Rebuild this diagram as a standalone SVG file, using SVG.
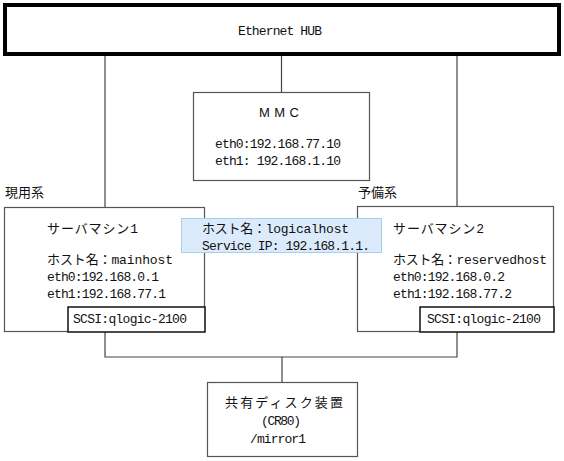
<svg xmlns="http://www.w3.org/2000/svg" width="564" height="461" viewBox="0 0 564 461">
<style>
text{font-family:"Liberation Mono","Noto Sans CJK JP",monospace;font-size:13px;fill:#111}
.box{fill:#fff;stroke:#555;stroke-width:1.2}
.scsi{fill:#fff;stroke:#111;stroke-width:1.5}
.conn{stroke:#444;stroke-width:1.2;fill:none}
</style>
<rect width="564" height="461" fill="#fff"/>
<g id="connectors">
<path class="conn" d="M105 56V207M281.5 56V93M457 56V207M105 332V357H457V332M282 357V382"/>
</g>
<g id="hub">
<rect x="5" y="5" width="554" height="49" fill="#fff" stroke="#000" stroke-width="4"/>
<text x="280" y="34.5" text-anchor="middle" textLength="84">Ethernet HUB</text>
</g>
<g id="mmc">
<rect class="box" x="193.5" y="92.5" width="176" height="88"/>
<text x="279" y="117" text-anchor="middle" textLength="40" style="font-family:'Liberation Sans',sans-serif">MMC</text>
<text x="215" y="147.5" textLength="126">eth0:192.168.77.10</text>
<text x="215" y="164.5" textLength="126">eth1: 192.168.1.10</text>
</g>
<g id="server1">
<text x="5" y="197">現用系</text>
<rect class="box" x="4.5" y="207.5" width="200" height="124"/>
<text x="47" y="233" textLength="91">サーバマシン1</text>
<text x="47" y="264" textLength="126">ホスト名：mainhost</text>
<text x="47" y="281" textLength="112">eth0:192.168.0.1</text>
<text x="47" y="298" textLength="119">eth1:192.168.77.1</text>
<rect class="scsi" x="68" y="307" width="137" height="25"/>
<text x="73" y="322.5" textLength="114">SCSI:qlogic-2100</text>
</g>
<g id="server2">
<text x="358" y="197">予備系</text>
<rect class="box" x="357.5" y="206.5" width="196" height="125"/>
<text x="393" y="233" textLength="91">サーバマシン2</text>
<text x="393" y="264" textLength="154">ホスト名：reservedhost</text>
<text x="393" y="281" textLength="112">eth0:192.168.0.2</text>
<text x="393" y="298" textLength="119">eth1:192.168.77.2</text>
<rect class="scsi" x="420" y="307" width="134" height="25"/>
<text x="427" y="322.5" textLength="114">SCSI:qlogic-2100</text>
</g>
<g id="logicalhost">
<rect x="181.5" y="218.5" width="200" height="34" fill="#dcebfb" stroke="#a9cdef" stroke-width="1"/>
<text x="202" y="232.5" textLength="147">ホスト名：logicalhost</text>
<text x="202" y="249.5" textLength="168">Service IP: 192.168.1.1.</text>
</g>
<g id="disk">
<rect class="box" x="207.5" y="382.5" width="150" height="74" stroke="#222"/>
<text x="284" y="407" text-anchor="middle" textLength="118">共有ディスク装置</text>
<text x="281" y="425" text-anchor="middle" textLength="40">(CR80)</text>
<text x="278" y="443" text-anchor="middle" textLength="56">/mirror1</text>
</g>
</svg>
